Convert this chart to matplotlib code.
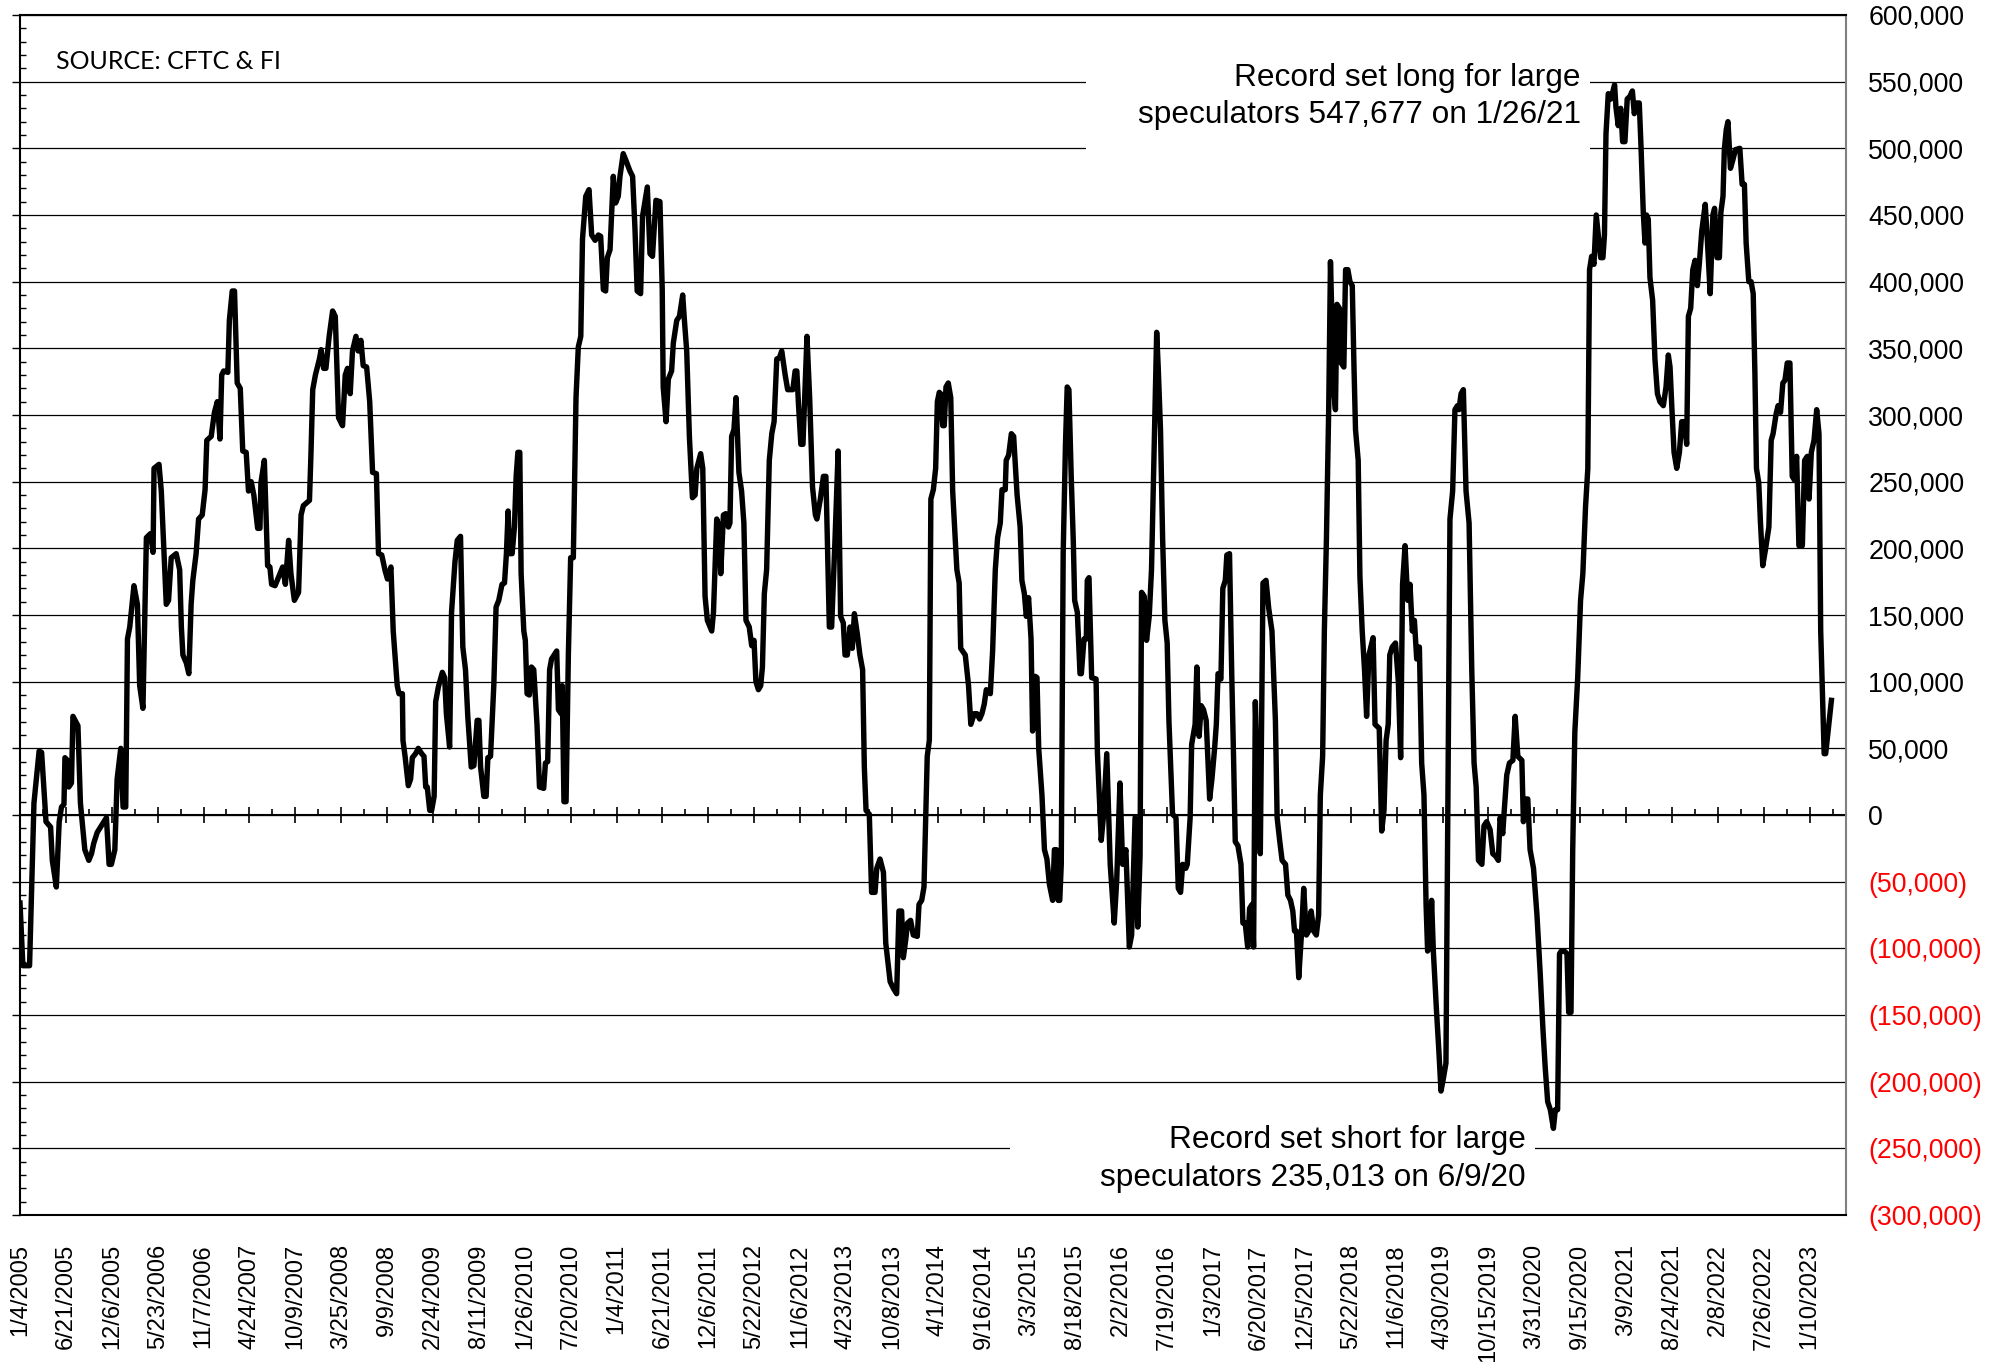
import numpy as np
import matplotlib.pyplot as plt
from matplotlib.patches import Rectangle
from matplotlib.ticker import MultipleLocator

plt.rcParams['font.family'] = ['Liberation Sans', 'DejaVu Sans']

# week index (0 = 1/4/2005, one step per weekly report) and net position
# of large speculators in thousands of contracts
week = [
    0, 1.5, 5, 7.3, 10, 11.3, 13.6, 16, 16.9, 19,
    20.5, 21.7, 23, 23.5, 24.8, 25.5, 26.9, 27.7, 30.3, 31.6,
    33.9, 36, 37.4, 38.6, 40.4, 42.6, 45.2, 46.6, 47.8, 49.6,
    50.8, 52.7, 53.9, 55.3, 56.2, 57.4, 59.6, 61.4, 62.6, 64.3,
    66.1, 68.2, 69.6, 70.1, 72.7, 73.9, 76.5, 77.7, 79.1, 81.7,
    83.5, 84.4, 85.2, 87, 88.3, 89.5, 90.4, 92.1, 93.4, 95.3,
    96.8, 97.7, 100, 101.7, 103.2, 104.6, 105.5, 106.5, 108.7, 109.5,
    111, 112.2, 113.6, 115.2, 116.5, 118.3, 119.5, 120.9, 122.3, 124.3,
    125.5, 126, 127.8, 129.5, 130.7, 131.6, 133.4, 135.1, 137.4, 138.8,
    140.5, 141.7, 143.5, 145.7, 147, 148.2, 151.4, 152.2, 153.1, 154.5,
    156.6, 157.5, 158.8, 160, 161.7, 163.5, 164.9, 166.6, 168.7, 170.1,
    171.3, 172.7, 173.9, 175.7, 176.9, 178.3, 179.5, 181.3, 182.9, 184.4,
    186.4, 187.5, 189.2, 191, 192.2, 194, 195.2, 197.3, 198.2, 200,
    200.3, 201.4, 203.1, 204.3, 205.2, 206.9, 208.3, 210.1, 211.3, 212.2,
    213, 214.3, 215.3, 216.6, 217.4, 218.8, 220.9, 222.1, 223, 224.7,
    225.7, 227.5, 228.7, 230.4, 231.6, 233, 234.2, 236, 237.4, 239.1,
    240, 240.9, 242.6, 243.8, 244.7, 246.1, 247.8, 249, 250.4, 252.1,
    253.4, 254.4, 255.3, 256.1, 257.4, 258.6, 259.5, 260.4, 261.4, 262.1,
    263.5, 264.3, 265.2, 266.4, 267.5, 268.7, 270.4, 271.7, 273.9, 274.8,
    276, 277, 278, 280.7, 281.6, 283, 283.6, 284.5, 285.6, 286.8,
    288, 289.4, 290.8, 292, 293.3, 294.2, 295.9, 297.6, 299, 300.8,
    302.5, 303.7, 305.1, 306.3, 307.2, 308.6, 310.3, 311.5, 312.9, 313.8,
    315.5, 316.9, 319, 320.4, 321.6, 322.8, 324.6, 325.6, 328.1, 329.5,
    330.8, 332.6, 334.7, 335.9, 336.4, 337.9, 339.1, 340.8, 341.7, 343.5,
    344.9, 346.6, 347.5, 348.7, 350.1, 351.7, 353.1, 354, 356, 357.1,
    358.3, 359.5, 361.8, 362.7, 364.4, 365.7, 366.5, 367.9, 369.1, 370.5,
    371.3, 372.2, 373.4, 374.5, 376, 377.4, 378.6, 379.7, 381.4, 382.7,
    383.9, 384.9, 386.2, 387.4, 388.3, 389.3, 390.5, 391.9, 393.2, 394.4,
    395.8, 397.2, 398.4, 400.2, 401.5, 402.8, 404.2, 405.4, 406.3, 407.2,
    408.4, 409.5, 410.7, 411.6, 413, 414.5, 416, 416.8, 418.6, 420.2,
    421.5, 423.3, 424.5, 426.3, 427.9, 429.2, 430.6, 431.5, 432.7, 434.1,
    435.3, 436.4, 438, 439.3, 440.7, 441.6, 442.5, 444.2, 445.4, 447.2,
    448.1, 449.8, 451.6, 452.8, 455.1, 456.8, 458.5, 459.7, 461.1, 462,
    463.3, 464.2, 465.8, 467.2, 469.3, 470.2, 471.6, 472.8, 473.8, 474.5,
    475.6, 476.4, 477.7, 478.9, 479.8, 480.8, 481.5, 482.6, 483.4, 484.3,
    485.5, 486.8, 487.8, 488.7, 490, 491.2, 492, 494.4, 496.1, 497.3,
    499.1, 500.5, 501.9, 503.1, 504.3, 505.4, 507.5, 508.7, 510.1, 511.3,
    512.7, 513.6, 515.3, 515.8, 517.1, 518.5, 519.7, 521.5, 523.1, 524,
    525.3, 526.3, 527.5, 528.8, 529.6, 531, 531.9, 532.8, 534.5, 535.8,
    537.1, 538.4, 540.1, 541, 542.1, 543, 543.8, 544.6, 545.6, 546.8,
    547.7, 548.6, 549.8, 550.9, 551.6, 553, 554.4, 555.1, 556.5, 557.7,
    558.2, 559.1, 560.5, 562.8, 563.5, 565.5, 566.6, 568.4, 570.2, 572.3,
    573.6, 575.3, 576.7, 578.4, 580.2, 581.4, 583.2, 584.6, 585.8, 586.6,
    588, 589.2, 590.6, 591.8, 593.2, 594.5, 595.3, 596.5, 597.6, 598.8,
    600, 600.9, 602.8, 604.6, 605.8, 607, 608.1, 609.7, 610.5, 612,
    612.8, 614.6, 615.5, 616.7, 617.8, 619, 620.4, 622.2, 623.4, 624.8,
    625.7, 626.6, 628.1, 629.1, 630.4, 631.2, 632.6, 633.8, 634.7, 635.6,
    637, 638.6, 639.6, 640.8, 642.1, 643.1, 644.4, 645.2, 646.1, 647.3,
    648.7, 650.1, 651.7, 653.1, 654.8, 656.6, 657.5, 658.9, 660.1, 661.9,
    663.1, 664.5, 665.7, 666.6, 667.6, 668.8, 670.2, 671.4, 672.8, 674,
    675.3, 676.6, 678, 679.2, 680.1, 681.3, 682.2, 683.3, 684.5, 685.4,
    686.2, 687.1, 688, 688.8, 690.1, 691, 692.4, 693.3, 694.5, 695.6,
    696.8, 697.7, 698.5, 699.9, 700.8, 702, 703.2, 704.3, 705.5, 707.7,
    708.7, 710.9, 712.2, 713.4, 714.5, 715.6, 716.4, 717.7, 719.4, 720.9,
    722.1, 723.1, 724.4, 725.8, 727, 728.2, 729.3, 730.5, 731.9, 733.1,
    734.3, 735.4, 736.2, 737.5, 738.3, 739.2, 740.9, 742.1, 743.2, 744.4,
    745.8, 747, 747.9, 749.3, 750.5, 751.8, 752.6, 753.7, 754.9, 756.3,
    757.9, 759.3, 760.5, 761.6, 762.8, 764.6, 765.7, 767.1, 768.9, 770.3,
    771.9, 773.2, 774.1, 775.5, 776.3, 777.6, 779, 780.8, 782, 783.4,
    785.5, 786.3, 787.6, 788.6, 789.8, 791.6, 793.4, 795.1, 796.5, 797.7,
    799, 800.4, 802, 803, 804.2, 805.2, 806.1, 807.7, 809.1, 810,
    811.2, 812.1, 813.2, 814.7, 816.2, 817.4, 818.8, 820, 820.9, 822,
    823.2, 824.4, 825.5, 826.7, 827.9, 828.7, 829.5, 830.7, 832.1, 834,
    834.7, 835.9, 837.2, 838.2, 839.4, 840.6, 842, 843.3, 844.3, 845.5,
    846.9, 847.8, 849, 849.9, 850.7, 851.6, 852.5, 853.9, 855.1, 856.4,
    857.7, 859.5, 860.9, 862.1, 863, 863.9, 865.1, 866.5, 867.9, 869.1,
    870.5, 871.7, 872.6, 873.8, 874.9, 876.1, 877.3, 878.4, 879.6, 881.4,
    882.6, 884, 885.4, 886.3, 887.6, 888.8, 889.6, 890.7, 891.4, 892.4,
    893.3, 894.6, 895.8, 897.2, 899.5, 900.7, 901.9, 902.8, 904.2, 905.4,
    906.5, 907.4, 908.2, 909.4, 910.3, 911.5, 912.9, 914.7, 915.9, 916.9,
    918.5, 919.5, 920.8, 922, 923.1, 924.3, 925.7, 926.9, 928.2, 929.2,
    930.4, 932.2, 933.4, 934.8, 935.7, 936.9, 938.3, 939.7, 940.9, 941.8,
    943.6, 944.4, 947.4,
]

net_k = [
    -66, -113, -113, 9, 48, 47, -5, -9, -34, -54,
    -5, 6, 8, 43, 41, 21, 24, 74, 67, 9,
    -26, -34, -29, -21, -13, -8, -2, -37, -37, -26,
    27, 50, 6, 6, 132, 141, 172, 158, 97, 80,
    208, 211, 197, 260, 263, 243, 158, 161, 193, 196,
    184, 141, 120, 114, 106, 158, 176, 196, 222, 225,
    244, 281, 284, 302, 310, 282, 330, 333, 332, 371,
    393, 393, 324, 320, 273, 272, 243, 250, 240, 215,
    215, 249, 266, 187, 186, 173, 172, 178, 186, 173,
    206, 181, 161, 167, 225, 232, 236, 272, 319, 330,
    342, 349, 335, 335, 359, 378, 374, 298, 292, 330,
    335, 316, 348, 359, 348, 356, 337, 336, 310, 257,
    256, 196, 195, 183, 177, 186, 138, 97, 91, 91,
    56, 44, 22, 27, 43, 46, 50, 46, 44, 21,
    21, 3.5, 3.5, 14, 85, 96, 107, 103, 76, 51,
    152, 190, 206, 209, 126, 109, 74, 36, 37, 71,
    71, 36, 14, 14, 43, 44, 97, 156, 161, 173,
    174, 196, 228, 196, 196, 216, 254, 272, 272, 181,
    138, 131, 91, 90, 111, 109, 68, 21, 20, 39,
    40, 109, 117, 123, 79, 76, 97, 10, 10, 120,
    193, 193, 313, 351, 359, 432, 464, 469, 435, 431,
    435, 434, 394, 393, 418, 424, 479, 459, 464, 479,
    496, 491, 483, 479, 441, 393, 391, 449, 471, 421,
    419, 461, 460, 394, 321, 295, 327, 333, 354, 371,
    374, 390, 371, 348, 284, 238, 240, 260, 271, 260,
    164, 146, 138, 152, 222, 216, 181, 225, 226, 216,
    219, 284, 289, 313, 257, 243, 219, 146, 141, 127,
    131, 100, 94, 97, 111, 166, 184, 266, 286, 295,
    342, 343, 348, 330, 319, 319, 319, 333, 333, 307,
    278, 278, 324, 359, 313, 246, 225, 222, 237, 254,
    254, 141, 141, 208, 273, 149, 144, 120, 120, 141,
    125, 151, 135, 120, 109, 36, 3.5, 0.6, -58, -58,
    -40, -33, -43, -96, -125, -130, -134, -72, -72, -107,
    -93, -81, -79, -90, -91, -67, -64, -54, 3.5, 44,
    56, 237, 244, 260, 310, 317, 316, 292, 292, 321,
    324, 313, 243, 219, 184, 174, 125, 120, 97, 68,
    76, 76, 72, 76, 83, 94, 91, 123, 184, 208,
    219, 244, 244, 266, 270, 286, 284, 240, 216, 176,
    166, 149, 163, 132, 63, 104, 103, 50, 15, -26,
    -33, -52, -64, -26, -26, -64, -64, -37, 196, 278,
    321, 319, 254, 205, 161, 152, 106, 106, 132, 132,
    176, 178, 103, 102, 47, -19, -2, 46, -37, -81,
    -49, 24, -37, -26, -99, -90, -2, -84, -31, 167,
    164, 131, 149, 184, 275, 362, 336, 289, 208, 146,
    129, 71, 0.6, -2, -55, -58, -37, -40, -37, -2,
    53, 68, 111, 59, 82, 79, 71, 12, 27, 50,
    68, 106, 102, 170, 176, 195, 196, 103, 44, -20,
    -23, -37, -81, -81, -99, -70, -67, -99, 85, 21,
    -29, 174, 176, 155, 138, 71, -2, -20, -34, -37,
    -60, -64, -72, -87, -87, -122, -90, -55, -90, -87,
    -72, -87, -90, -75, 15, 44, 138, 208, 307, 415,
    371, 319, 304, 383, 380, 339, 336, 409, 409, 400,
    397, 336, 289, 266, 179, 138, 109, 74, 120, 133,
    68, 65, -12, 3.5, 56, 68, 120, 126, 129, 100,
    43, 173, 202, 161, 173, 138, 146, 117, 126, 39,
    15, -67, -102, -99, -64, -102, -148, -177, -207, -198,
    -186, 44, 222, 243, 304, 307, 304, 316, 319, 243,
    219, 109, 39, 21, -34, -37, -8, -5, -11, -29,
    -31, -34, -2, -14, 3.5, 30, 39, 41, 74, 44,
    41, -5, 12, 12, -26, -40, -75, -119, -160, -189,
    -215, -221, -235, -221, -221, -104, -102, -102, -104, -148,
    -148, -26, 62, 103, 161, 181, 231, 260, 409, 419,
    413, 450, 435, 418, 418, 435, 511, 541, 537, 547.7,
    531, 517, 530, 505, 505, 537, 539, 543, 526, 534,
    534, 502, 452, 429, 450, 447, 403, 386, 342, 316,
    310, 307, 321, 345, 336, 307, 272, 260, 272, 295,
    295, 278, 374, 380, 409, 416, 397, 415, 438, 458,
    429, 391, 450, 455, 418, 418, 452, 464, 499, 514,
    520, 485, 491, 499, 500, 473, 473, 429, 400, 400,
    391, 330, 260, 249, 219, 187, 199, 216, 281, 286,
    301, 307, 302, 324, 326, 339, 339, 254, 251, 269,
    202, 202, 266, 269, 237, 272, 281, 304, 286, 138,
    46, 46, 86,
]

date_labels = [
    "1/4/2005", "6/21/2005", "12/6/2005", "5/23/2006", "11/7/2006",
    "4/24/2007", "10/9/2007", "3/25/2008", "9/9/2008", "2/24/2009",
    "8/11/2009", "1/26/2010", "7/20/2010", "1/4/2011", "6/21/2011",
    "12/6/2011", "5/22/2012", "11/6/2012", "4/23/2013", "10/8/2013",
    "4/1/2014", "9/16/2014", "3/3/2015", "8/18/2015", "2/2/2016",
    "7/19/2016", "1/3/2017", "6/20/2017", "12/5/2017", "5/22/2018",
    "11/6/2018", "4/30/2019", "10/15/2019", "3/31/2020", "9/15/2020",
    "3/9/2021", "8/24/2021", "2/8/2022", "7/26/2022", "1/10/2023",
]
label_step = 24  # one date label every 24 weekly reports

y_ticks = list(range(-300000, 600001, 50000))


def fmt(v):
    if v < 0:
        return "({:,})".format(-v)
    return "{:,}".format(v)


fig = plt.figure(figsize=(19.96, 13.62), dpi=100)
ax = fig.add_axes([0.01002, 0.1079, 0.9148, 0.8811])

ax.plot(week, np.array(net_k) * 1000, color="black", lw=3.9, zorder=3)

ax.set_xlim(0, 955)
ax.set_ylim(-300000, 600000)

# left axis: gridlines, ticks only
ax.set_yticks(y_ticks)
ax.yaxis.set_minor_locator(MultipleLocator(10000))
ax.tick_params(axis="y", which="major", direction="out", length=5.8, width=1,
               left=True, right=False, labelleft=False)
ax.tick_params(axis="y", which="minor", direction="in", length=4.1, width=1,
               left=True, right=False)
ax.grid(axis="y", which="major", color="black", lw=0.9)
ax.set_axisbelow(True)

# bottom date labels
ax.set_xticks(range(0, label_step * len(date_labels), label_step))
ax.set_xticklabels(date_labels, rotation=90, fontsize=17)
ax.tick_params(axis="x", length=0, pad=21)

for s in ["left", "top", "bottom"]:
    ax.spines[s].set_linewidth(1.5)
    ax.spines[s].set_color("black")
ax.spines["right"].set_linewidth(1.5)
ax.spines["right"].set_color("#808080")

# right value labels
ax2 = ax.twinx()
ax2.set_ylim(ax.get_ylim())
ax2.set_yticks(y_ticks)
ax2.set_yticklabels([fmt(v) for v in y_ticks])
ax2.tick_params(axis="y", length=0, pad=16, labelsize=19.3)
for lab, v in zip(ax2.get_yticklabels(), y_ticks):
    lab.set_color("red" if v < 0 else "black")
for s in ax2.spines.values():
    s.set_visible(False)

# category axis crossing at zero
zero_ax = ax.secondary_xaxis(1 / 3)
zero_ax.xaxis.set_major_locator(MultipleLocator(label_step))
zero_ax.xaxis.set_minor_locator(MultipleLocator(label_step // 2))
zero_ax.tick_params(which="major", direction="inout", length=12, width=1.2,
                    labelbottom=False, labeltop=False)
zero_ax.tick_params(which="minor", direction="in", length=4, width=1.2)
zero_ax.spines["bottom"].set_linewidth(1.5)

# white text boxes that break the gridlines
ax.add_patch(Rectangle((0.5838, 0.879), 0.276, 0.100, transform=ax.transAxes,
                       facecolor="white", edgecolor="none", zorder=1))
ax.add_patch(Rectangle((0.5422, 0.0083), 0.2875, 0.0917, transform=ax.transAxes,
                       facecolor="white", edgecolor="none", zorder=1))

ax.text(0.0195, 0.9553, "SOURCE: CFTC & FI", transform=ax.transAxes,
        fontsize=18, family=["Lato", "DejaVu Sans"], ha="left", va="baseline",
        zorder=4)

ax.text(0.8549, 0.9408, "Record set long for large", transform=ax.transAxes,
        fontsize=22.8, ha="right", va="baseline", zorder=4)
ax.text(0.8549, 0.910, "speculators 547,677 on 1/26/21", transform=ax.transAxes,
        fontsize=22.8, ha="right", va="baseline", zorder=4)

ax.text(0.8247, 0.0558, "Record set short for large", transform=ax.transAxes,
        fontsize=22.8, ha="right", va="baseline", zorder=4)
ax.text(0.8247, 0.0242, "speculators 235,013 on 6/9/20", transform=ax.transAxes,
        fontsize=22.8, ha="right", va="baseline", zorder=4)

fig.savefig("out.png", dpi=100)
